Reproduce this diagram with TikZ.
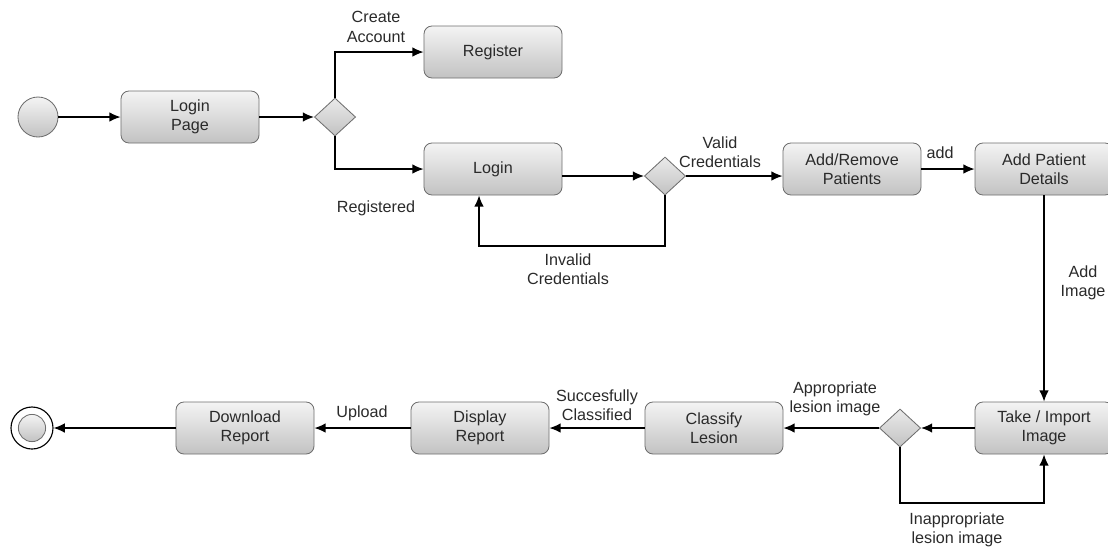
\documentclass[tikz,border=0pt]{standalone}
\usepackage{fontspec}
\setmainfont{Liberation Sans}
\usetikzlibrary{shapes.geometric,arrows.meta}

\definecolor{boxtop}{HTML}{F4F4F4}
\definecolor{boxbot}{HTML}{C2C2C2}
\definecolor{boxline}{HTML}{6E6E6E}
\definecolor{boxtext}{HTML}{2A2A2A}

\tikzset{
    activity/.style={rectangle, rounded corners=0.2cm, draw=boxline, line width=0.6pt,
        top color=boxtop, bottom color=boxbot, minimum width=3.45cm, minimum height=1.3cm,
        align=center, text=boxtext, font=\fontsize{11.5}{13.8}\selectfont},
    decision/.style={diamond, draw=boxline, line width=0.6pt, top color=boxtop!80!boxbot,
        bottom color=boxbot, minimum width=1.03cm, minimum height=0.95cm, inner sep=0pt},
    guard/.style={align=center, text=boxtext, font=\fontsize{11.5}{13.8}\selectfont},
    flow/.style={-{Latex[length=2.8mm, width=2.4mm]}, line width=0.95pt},
}

\begin{document}
\begin{tikzpicture}[x=0.025cm, y=-0.025cm]
    \useasboundingbox (0,0) rectangle (1108,549);

    \node[circle, draw=boxline, line width=0.6pt, top color=boxtop, bottom color=boxbot, minimum size=1cm, inner sep=0pt] (start) at (38,117) {};
    \node[activity] (loginpage) at (190,117) {Login\\Page};
    \node[decision] (d1) at (335,117) {};
    \node[activity] (register) at (493,52) {Register};
    \node[activity] (login) at (493,169) {Login};
    \node[decision] (d2) at (665,176) {};
    \node[activity] (addrem) at (852,169) {Add/Remove\\Patients};
    \node[activity] (addpat) at (1044,169) {Add Patient\\Details};

    \node[activity] (takeimg) at (1044,428) {Take / Import\\Image};
    \node[decision] (d3) at (900,428) {};
    \node[activity] (classify) at (714,428) {Classify\\Lesion};
    \node[activity] (display) at (480,428) {Display\\Report};
    \node[activity] (download) at (245,428) {Download\\Report};
    \node[circle, draw=black, line width=0.8pt, fill=white, minimum size=1.05cm, inner sep=0pt] (end) at (32,428) {};
    \node[circle, draw=boxline, line width=0.6pt, top color=boxtop, bottom color=boxbot, minimum size=0.68cm, inner sep=0pt] (endin) at (end) {};

    % guards
    \node[guard] (lcreate) at (376,27) {Create\\Account};
    \node[guard] (lreg) at (376,208) {Registered};
    \node[guard] (lvalid) at (720,152) {Valid\\Credentials};
    \node[guard] (linvalid) at (568,269) {Invalid\\Credentials};
    \node[guard] (ladd) at (940,153) {add};
    \node[guard] (laddimg) at (1083,283) {Add\\Image};
    \node[guard] (lappr) at (835,399) {Appropriate\\lesion image};
    \node[guard] (linappr) at (957,530) {Inappropriate\\lesion image};
    \node[guard] (lclass) at (597,405) {Succesfully\\Classified};
    \node[guard] (lupload) at (362,413) {Upload};

    \coordinate (invbend) at (479,246);
    \coordinate (inbend) at (1044,503);

    \draw[flow] (start) -- (loginpage);
    \draw[flow] (loginpage) -- (d1);
    \draw[flow] (d1.north) |- (register);
    \draw[flow] (d1.south) |- (login);
    \draw[flow] (login.east |- d2) -- (d2);
    \draw[flow] (d2) -- (addrem.west |- d2);
    \draw[flow] (d2.south) |- (invbend) -- (invbend |- login.south);
    \draw[flow] (addrem) -- (addpat);
    \draw[flow] (addpat) -- (takeimg);
    \draw[flow] (takeimg) -- (d3);
    \draw[flow] (d3.south) |- (inbend) -- (takeimg);
    \draw[flow] (d3) -- (classify);
    \draw[flow] (classify) -- (display);
    \draw[flow] (display) -- (download);
    \draw[flow] (download) -- (end);
\end{tikzpicture}
\end{document}
